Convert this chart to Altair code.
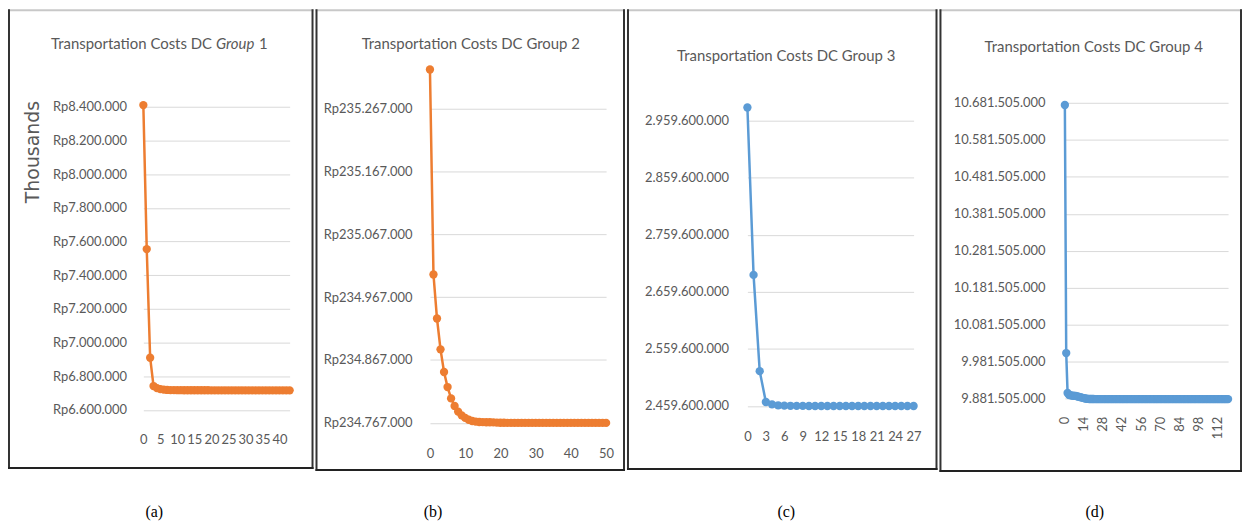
import altair as alt
import pandas as pd

# ---------------- data ----------------
a_iter = list(range(44))
a_cost = [8410000, 7555000, 6910000, 6742000, 6730000, 6724000, 6721000, 6719000, 6718000, 6718000,
          6717500, 6717500, 6717000, 6717000, 6717000, 6717000, 6717000, 6717000, 6717000, 6717000,
          6716800, 6716800, 6716800, 6716800, 6716800, 6716800, 6716800, 6716800, 6716800, 6716800,
          6716600, 6716600, 6716600, 6716600, 6716600, 6716600, 6716600, 6716600, 6716600, 6716600,
          6716500, 6716500, 6716500, 6716500]

b_iter = list(range(51))
b_cost = [235329000, 235003000, 234933000, 234884000, 234848000, 234824000, 234806000, 234794000, 234785000, 234779000,
          234775000, 234772000, 234770000, 234769000, 234768500, 234768200, 234768000, 234768000, 234767800, 234767500,
          234767300, 234767300, 234767200, 234767200, 234767200, 234767100, 234767100, 234767100, 234767100, 234767100,
          234767000, 234767000, 234767000, 234767000, 234767000, 234767000, 234767000, 234767000, 234767000, 234767000,
          234767000, 234767000, 234767000, 234767000, 234767000, 234767000, 234767000, 234767000, 234767000, 234767000,
          234767000]

c_iter = list(range(28))
c_cost = [2982800000, 2689300000, 2520600000, 2466600000, 2462500000, 2460800000, 2460200000, 2459900000,
          2459800000, 2459700000, 2459600000, 2459600000, 2459600000, 2459600000, 2459600000, 2459600000,
          2459600000, 2459600000, 2459600000, 2459600000, 2459600000, 2459600000, 2459600000, 2459600000,
          2459600000, 2459600000, 2459600000, 2459600000]

d_iter = list(range(121))
d_cost = [10676000000, 10005000000, 9897000000, 9892000000, 9891000000, 9890000000, 9890000000, 9889000000,
          9889000000, 9888000000, 9887000000, 9886000000, 9885000000, 9884000000, 9883000000, 9882000000,
          9881500000, 9881000000, 9880800000, 9880800000, 9880700000, 9880700000, 9880600000, 9880600000,
          9880600000, 9880500000, 9880500000, 9880500000, 9880500000, 9880500000, 9880500000, 9880500000,
          9880500000, 9880500000, 9880500000, 9880500000, 9880500000, 9880500000, 9880500000, 9880500000,
          9880500000, 9880500000, 9880500000, 9880500000, 9880500000, 9880500000, 9880500000, 9880500000,
          9880500000, 9880500000, 9880500000, 9880500000, 9880500000, 9880500000, 9880500000, 9880500000,
          9880500000, 9880500000, 9880500000, 9880500000, 9880500000, 9880500000, 9880500000, 9880500000,
          9880500000, 9880500000, 9880500000, 9880500000, 9880500000, 9880500000, 9880500000, 9880500000,
          9880500000, 9880500000, 9880500000, 9880500000, 9880500000, 9880500000, 9880500000, 9880500000,
          9880500000, 9880500000, 9880500000, 9880500000, 9880500000, 9880500000, 9880500000, 9880500000,
          9880500000, 9880500000, 9880500000, 9880500000, 9880500000, 9880500000, 9880500000, 9880500000,
          9880500000, 9880500000, 9880500000, 9880500000, 9880500000, 9880500000, 9880500000, 9880500000,
          9880500000, 9880500000, 9880500000, 9880500000, 9880500000, 9880500000, 9880500000, 9880500000,
          9880500000, 9880500000, 9880500000, 9880500000, 9880500000, 9880500000, 9880500000, 9880500000,
          9880500000]

a_xticks = [0, 5, 10, 15, 20, 25, 30, 35, 40]
a_yticks = [6600000, 6800000, 7000000, 7200000, 7400000, 7600000, 7800000, 8000000, 8200000, 8400000]
b_xticks = [0, 10, 20, 30, 40, 50]
b_yticks = [234767000, 234867000, 234967000, 235067000, 235167000, 235267000]
c_xticks = [0, 3, 6, 9, 12, 15, 18, 21, 24, 27]
c_yticks = [2459600000, 2559600000, 2659600000, 2759600000, 2859600000, 2959600000]
d_xticks = [0, 14, 28, 42, 56, 70, 84, 98, 112]
d_yticks = [9881505000, 9981505000, 10081505000, 10181505000, 10281505000, 10381505000,
            10481505000, 10581505000, 10681505000]

# y-scale domains (chosen so every panel shares one plot-area frame)
a_ydom = [6521400, 8423600]
b_ydom = [234766500, 235276000]
c_ydom = [2429370000, 2991000000]
d_ydom = [9815200000, 10682000000]

titles = ["Transportation Costs DC Group 2", "Transportation Costs DC Group 3", "Transportation Costs DC Group 4"]
title_a_parts = ["Transportation Costs DC", "Group", "1"]
captions = ["(a)", "(b)", "(c)", "(d)"]

# ---------------- styling ----------------
FONT = "Lato"
GRAY = "#595959"
GRID = "#d9d9d9"
ORANGE = "#ED7D31"
BLUE = "#5B9BD5"
TOP = 102      # common plot-area top (page px)
H = 322        # common plot-area height
one = pd.DataFrame({"k": [0]})


def label_expr(prefix):
    return f"'{prefix}' + replace(format(datum.value, ',.0f'), regexp(',', 'g'), '.')"


def text_layer(txt, x, y, size=15, font=FONT, color=GRAY, align="center", style="normal"):
    return alt.Chart(one).mark_text(font=font, fontSize=size, color=color, align=align,
                                    baseline="middle", fontStyle=style).encode(
        x=alt.value(x), y=alt.value(y), text=alt.value(txt))


def bar(x1, x2, y1, y2, color):
    return alt.Chart(one).mark_rect(color=color, strokeWidth=0).encode(
        x=alt.value(x1), x2=alt.value(x2), y=alt.value(y1), y2=alt.value(y2))


def panel(iters, costs, color, xdom, xticks, ydom, yticks, prefix, width, px0, box,
          caption, caption_x, title_layers, xpad, ypad, rotate=False, ytitle=None):
    py0 = TOP
    df = pd.DataFrame({"iteration": iters, "cost": costs})
    xaxis = dict(values=xticks, grid=False, domain=False, ticks=False, labelPadding=xpad,
                 labelOverlap=False, labelFlush=False, labelBound=False, title=None,
                 labelFont=FONT, labelFontSize=13, labelColor=GRAY)
    if rotate:
        xaxis.update(labelAngle=270, labelAlign="right", labelBaseline="middle")
    else:
        xaxis.update(labelAngle=0, labelAlign="center", labelBaseline="middle")
    yaxis = dict(values=yticks, grid=True, gridColor=GRID, gridWidth=1, domain=False, ticks=False,
                 labelPadding=ypad, labelOverlap=False, labelExpr=label_expr(prefix),
                 labelFont=FONT, labelFontSize=13, labelColor=GRAY)
    if ytitle:
        yaxis.update(title=ytitle, titleFont="DejaVu Sans", titleFontSize=19, titleFontWeight="normal",
                     titleColor=GRAY, titleAngle=270, titleAlign="center", titleBaseline="bottom",
                     titleX=43 - px0, titleY=151 - py0)
    else:
        yaxis["title"] = None

    line = alt.Chart(df).mark_line(
        color=color, strokeWidth=2.5,
        point=alt.OverlayMarkDef(filled=True, size=70, color=color, opacity=1)
    ).encode(
        x=alt.X("iteration:Q", scale=alt.Scale(domain=xdom, nice=False, zero=False), axis=alt.Axis(**xaxis)),
        y=alt.Y("cost:Q", scale=alt.Scale(domain=ydom, nice=False, zero=False), axis=alt.Axis(**yaxis)),
    )

    # box: outer edges in page px -> relative to plot origin; 2px filled bars
    l, r, t, b = box[0] - px0, box[1] - px0, box[2] - py0, box[3] - py0
    borders = [
        bar(l, r, t, t + 2, "#c8c8c8"),
        bar(l, l + 2, t, b, "#333333"),
        bar(r - 2, r, t, b, "#333333"),
        bar(l, r, b - 2, b, "#222222"),
    ]
    cap = text_layer(caption, caption_x - px0, 513 - py0, size=16, font="Liberation Serif", color="#000000")
    texts = [tl(px0, py0) for tl in title_layers]
    return alt.layer(line, *borders, *texts, cap).properties(width=width, height=H)


pa = panel(a_iter, a_cost, ORANGE, [0, 43], a_xticks, a_ydom, a_yticks, "Rp",
           147, 144, (8, 315, 8, 470), captions[0], 155,
           [lambda x0, y0: text_layer(title_a_parts[0], 213 - x0, 43 - y0, align="right"),
            lambda x0, y0: text_layer(title_a_parts[1], 217 - x0, 43 - y0, align="left", style="italic"),
            lambda x0, y0: text_layer(title_a_parts[2], 269 - x0, 43 - y0, align="right")],
           xpad=16, ypad=17, ytitle="Thousands")

pb = panel(b_iter, b_cost, ORANGE, [0, 50], b_xticks, b_ydom, b_yticks, "Rp",
           177, 432, (317, 628, 8, 472), captions[1], 435,
           [lambda x0, y0: text_layer(titles[0], 473 - x0, 43 - y0)],
           xpad=30, ypad=18)

pc = panel(c_iter, c_cost, BLUE, [0, 27], c_xticks, c_ydom, c_yticks, "",
           167, 751, (630, 942, 8, 471), captions[2], 790,
           [lambda x0, y0: text_layer(titles[1], 790 - x0, 55 - y0)],
           xpad=13, ypad=19)

pd_ = panel(d_iter, d_cost, BLUE, [0, 120], d_xticks, d_ydom, d_yticks, "",
            164, 1070, (944, 1248, 8, 473), captions[3], 1100,
            [lambda x0, y0: text_layer(titles[2], 1099 - x0, 46 - y0)],
            xpad=-7, ypad=20, rotate=True)

chart = alt.hconcat(pa, pb, pc, pd_, spacing=2).configure_view(stroke=None).properties(
    padding=0, background="white")

chart.save("out.html", embed_options={"renderer": "svg", "actions": False})
